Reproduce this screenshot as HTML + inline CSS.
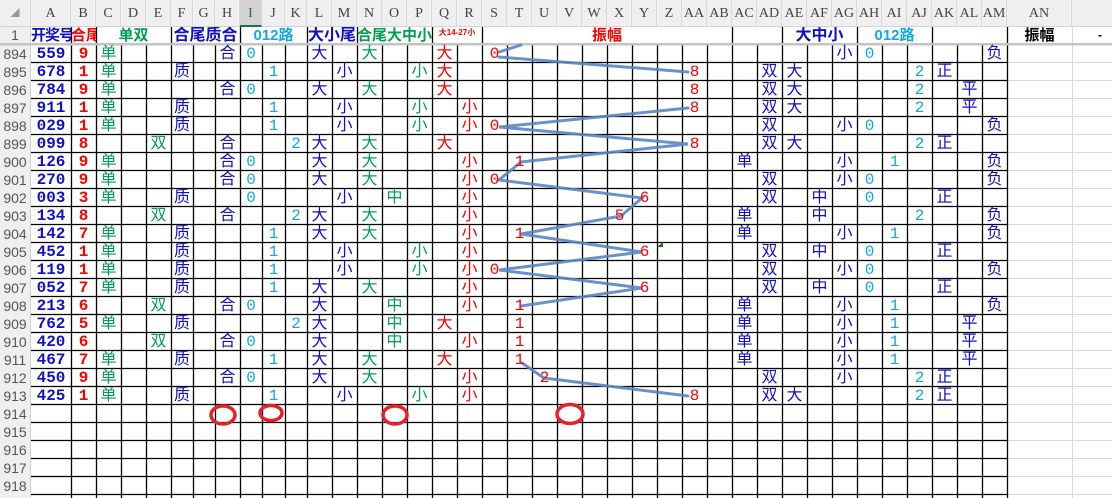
<!DOCTYPE html>
<html><head><meta charset="utf-8">
<style>
*{margin:0;padding:0;box-sizing:border-box}
body{width:1112px;height:498px;overflow:hidden;background:#fff;position:relative;font-family:"Liberation Sans","Noto Sans CJK SC",sans-serif}
.hd{position:absolute;left:0;top:0;width:1112px;height:27px;background:#efefef;border-bottom:1px solid #d4d4d4}
.hd span{position:absolute;top:0;height:27px;line-height:27px;text-align:center;font-family:"Liberation Serif","Noto Serif CJK SC",serif;font-size:14px;color:#444;border-right:1px solid #d8d8d8}
.rh{position:absolute;left:0;top:27px;width:31px;height:471px;background:#efefef;border-right:1px solid #d0d0d0}
.rh span{position:absolute;left:0;width:30px;text-align:center;font-family:"Liberation Sans Narrow","Liberation Sans",sans-serif;font-size:14px;color:#555;line-height:18px}
svg{position:absolute;left:0;top:0}
.r{position:absolute;left:0;width:1112px;height:18px}
.r i{position:absolute;top:0;height:18px;line-height:18px;text-align:center;font-style:normal;font-size:16px;font-family:"Liberation Sans","Noto Sans CJK SC",sans-serif;white-space:nowrap}
.A{left:31px;width:40px;color:#1010c8;font-weight:bold;font-family:"Liberation Mono",monospace!important;font-size:16px!important}
.B{left:71px;width:25px;color:#f00;font-weight:bold;font-family:"Liberation Mono",monospace!important;font-size:16px!important}
.C{left:96px;width:25px;color:#00a050}
.E{left:146px;width:25px;color:#00a050}
.F{left:171px;width:22px;color:#1010c8}
.H{left:215px;width:25px;color:#1010c8}
.I{left:240px;width:22px;color:#10a8e8;font-family:"Liberation Mono",monospace!important}
.J{left:262px;width:23px;color:#10a8e8;font-family:"Liberation Mono",monospace!important}
.K{left:285px;width:22px;color:#10a8e8;font-family:"Liberation Mono",monospace!important}
.L{left:307px;width:25px;color:#1010c8}
.M{left:332px;width:25px;color:#1010c8}
.N{left:357px;width:25px;color:#00a050}
.O{left:382px;width:25px;color:#00a050}
.P{left:407px;width:25px;color:#00a050}
.Q{left:432px;width:25px;color:#f00}
.R{left:457px;width:25px;color:#f00}
.v{width:25px;color:#f00;font-family:"Liberation Mono",monospace!important}
.v0{left:482px}.v1{left:507px}.v2{left:532px}.v5{left:607px}.v6{left:632px}.v8{left:682px}
.AC{left:732px;width:25px;color:#1010c8}
.AD{left:757px;width:25px;color:#1010c8}
.AE{left:782px;width:25px;color:#1010c8}
.AF{left:807px;width:25px;color:#1010c8}
.AG{left:832px;width:25px;color:#1010c8}
.AH{left:857px;width:25px;color:#10a8e8;font-family:"Liberation Mono",monospace!important}
.AI{left:882px;width:25px;color:#10a8e8;font-family:"Liberation Mono",monospace!important}
.AJ{left:907px;width:25px;color:#10a8e8;font-family:"Liberation Mono",monospace!important}
.AK{left:932px;width:25px;color:#1010c8}
.AL{left:957px;width:25px;color:#1010c8}
.AM{left:982px;width:25px;color:#1010c8}
.h1{position:absolute;top:27px;height:17px;line-height:17px;text-align:center;overflow:hidden;white-space:nowrap;font-weight:bold;font-family:"Liberation Sans","Noto Sans CJK SC",sans-serif}
</style></head><body>
<div class="hd">
<span style="left:0;width:31px;font-size:9px;color:#999">◢</span>
<span style="left:31px;width:40px">A</span><span style="left:71px;width:25px">B</span><span style="left:96px;width:25px">C</span><span style="left:121px;width:25px">D</span><span style="left:146px;width:25px">E</span><span style="left:171px;width:22px">F</span><span style="left:193px;width:22px">G</span><span style="left:215px;width:25px">H</span><span style="left:240px;width:22px;background:#d2d2d2;color:#217346;border-bottom:2px solid #217346">I</span><span style="left:262px;width:23px">J</span><span style="left:285px;width:22px">K</span><span style="left:307px;width:25px">L</span><span style="left:332px;width:25px">M</span><span style="left:357px;width:25px">N</span><span style="left:382px;width:25px">O</span><span style="left:407px;width:25px">P</span><span style="left:432px;width:25px">Q</span><span style="left:457px;width:25px">R</span><span style="left:482px;width:25px">S</span><span style="left:507px;width:25px">T</span><span style="left:532px;width:25px">U</span><span style="left:557px;width:25px">V</span><span style="left:582px;width:25px">W</span><span style="left:607px;width:25px">X</span><span style="left:632px;width:25px">Y</span><span style="left:657px;width:25px">Z</span><span style="left:682px;width:25px">AA</span><span style="left:707px;width:25px">AB</span><span style="left:732px;width:25px">AC</span><span style="left:757px;width:25px">AD</span><span style="left:782px;width:25px">AE</span><span style="left:807px;width:25px">AF</span><span style="left:832px;width:25px">AG</span><span style="left:857px;width:25px">AH</span><span style="left:882px;width:25px">AI</span><span style="left:907px;width:25px">AJ</span><span style="left:932px;width:25px">AK</span><span style="left:957px;width:25px">AL</span><span style="left:982px;width:25px">AM</span><span style="left:1007px;width:65px">AN</span>
</div>
<div class="rh">
<span style="top:0;line-height:17px">1</span>
<span style="top:18px">894</span><span style="top:36px">895</span><span style="top:54px">896</span><span style="top:72px">897</span><span style="top:90px">898</span><span style="top:108px">899</span><span style="top:126px">900</span><span style="top:144px">901</span><span style="top:162px">902</span><span style="top:180px">903</span><span style="top:198px">904</span><span style="top:216px">905</span><span style="top:234px">906</span><span style="top:252px">907</span><span style="top:270px">908</span><span style="top:288px">909</span><span style="top:306px">910</span><span style="top:324px">911</span><span style="top:342px">912</span><span style="top:360px">913</span><span style="top:378px">914</span><span style="top:396px">915</span><span style="top:414px">916</span><span style="top:432px">917</span><span style="top:450px">918</span>
</div>
<svg width="1112" height="498">
<g stroke="#dadada" stroke-width="1">
<line x1="1072.5" y1="27" x2="1072.5" y2="498"/>
<path d="M1007 62.5H1112M1007 80.5H1112M1007 98.5H1112M1007 116.5H1112M1007 134.5H1112M1007 152.5H1112M1007 170.5H1112M1007 188.5H1112M1007 206.5H1112M1007 224.5H1112M1007 242.5H1112M1007 260.5H1112M1007 278.5H1112M1007 296.5H1112M1007 314.5H1112M1007 332.5H1112M1007 350.5H1112M1007 368.5H1112M1007 386.5H1112M1007 404.5H1112M1007 422.5H1112M1007 440.5H1112M1007 458.5H1112M1007 476.5H1112M1007 494.5H1112"/>
</g>
<g stroke="#000" stroke-width="1.3">
<path d="M31 62.5H1007M31 80.5H1007M31 98.5H1007M31 116.5H1007M31 134.5H1007M31 152.5H1007M31 170.5H1007M31 188.5H1007M31 206.5H1007M31 224.5H1007M31 242.5H1007M31 260.5H1007M31 278.5H1007M31 296.5H1007M31 314.5H1007M31 332.5H1007M31 350.5H1007M31 368.5H1007M31 386.5H1007M31 404.5H1007M31 422.5H1007M31 440.5H1007M31 458.5H1007M31 476.5H1007M31 494.5H1007"/>
<path d="M71.5 45V498M96.5 45V498M121.5 45V498M146.5 45V498M171.5 45V498M193.5 45V498M215.5 45V498M240.5 45V498M262.5 45V498M285.5 45V498M307.5 45V498M332.5 45V498M357.5 45V498M382.5 45V498M407.5 45V498M432.5 45V498M457.5 45V498M482.5 45V498M507.5 45V498M532.5 45V498M557.5 45V498M582.5 45V498M607.5 45V498M632.5 45V498M657.5 45V498M682.5 45V498M707.5 45V498M732.5 45V498M757.5 45V498M782.5 45V498M807.5 45V498M832.5 45V498M857.5 45V498M882.5 45V498M907.5 45V498M932.5 45V498M957.5 45V498M982.5 45V498M1007.5 45V498"/>
<path d="M71.5 27V44M96.5 27V44M171.5 27V44M240.5 27V44M307.5 27V44M357.5 27V44M432.5 27V44M482.5 27V44M732.5 27V44M782.5 27V44M857.5 27V44M932.5 27V44M1007.5 27V44"/>
</g>
<rect x="31" y="43" width="1081" height="2.5" fill="#c4c4c4"/>
<rect x="0" y="43" width="31" height="2.5" fill="#c4c4c4"/>
<g stroke="#5a86c4" stroke-width="3" stroke-linecap="round" fill="none" opacity="0.9">
<path d="M499 52L521 45"/>
<path d="M499 57L688 72"/>
<path d="M688 108L499 127L688 144L521 162L499 180L642 198L621 216L521 234L642 252L499 270L642 288L521 306"/>
<path d="M522 363L544 378L688 396"/>
</g>
<g stroke="#e8202a" stroke-width="3.5" fill="none">
<ellipse cx="223" cy="415" rx="12" ry="9"/>
<ellipse cx="271" cy="413" rx="11" ry="7.5"/>
<ellipse cx="395" cy="415" rx="12" ry="9"/>
<ellipse cx="570" cy="414" rx="13" ry="9.5"/>
</g>
<path d="M657 247L663 242L663 247Z" fill="#1a7a1a"/>
</svg>
<div class="h1" style="left:31px;width:40px;color:#1010c8;font-size:15px;text-align:left;letter-spacing:-1px">开奖号</div>
<div class="h1" style="left:71px;width:25px;color:#f00;font-size:15px;text-align:left">合尾</div>
<div class="h1" style="left:96px;width:75px;color:#00a050;font-size:15px">单双</div>
<div class="h1" style="left:171px;width:69px;color:#1010c8;font-size:16px">合尾质合</div>
<div class="h1" style="left:240px;width:67px;color:#10a8e8;font-size:15px">012路</div>
<div class="h1" style="left:307px;width:50px;color:#1010c8;font-size:16px">大小尾</div>
<div class="h1" style="left:357px;width:75px;color:#00a050;font-size:15px">合尾大中小</div>
<div class="h1" style="left:432px;width:50px;color:#f00;font-size:8px;line-height:12px">大14-27小</div>
<div class="h1" style="left:482px;width:250px;color:#f00;font-size:15px">振幅</div>
<div class="h1" style="left:782px;width:75px;color:#1010c8;font-size:16px">大中小</div>
<div class="h1" style="left:857px;width:75px;color:#10a8e8;font-size:15px">012路</div>
<div class="h1" style="left:1007px;width:65px;color:#000;font-size:15px">振幅</div>
<div class="h1" style="left:1090px;width:20px;color:#000;font-size:12px">-</div>

<div class="r" style="top:45px"><i class="A">559</i><i class="B">9</i><i class="C">单</i><i class="H">合</i><i class="I">0</i><i class="L">大</i><i class="N">大</i><i class="Q">大</i><i class="v v0">0</i><i class="AG">小</i><i class="AH">0</i><i class="AM">负</i></div>
<div class="r" style="top:63px"><i class="A">678</i><i class="B">1</i><i class="C">单</i><i class="F">质</i><i class="J">1</i><i class="M">小</i><i class="P">小</i><i class="Q">大</i><i class="v v8">8</i><i class="AD">双</i><i class="AE">大</i><i class="AJ">2</i><i class="AK">正</i></div>
<div class="r" style="top:81px"><i class="A">784</i><i class="B">9</i><i class="C">单</i><i class="H">合</i><i class="I">0</i><i class="L">大</i><i class="N">大</i><i class="Q">大</i><i class="v v8">8</i><i class="AD">双</i><i class="AE">大</i><i class="AJ">2</i><i class="AL">平</i></div>
<div class="r" style="top:99px"><i class="A">911</i><i class="B">1</i><i class="C">单</i><i class="F">质</i><i class="J">1</i><i class="M">小</i><i class="P">小</i><i class="R">小</i><i class="v v8">8</i><i class="AD">双</i><i class="AE">大</i><i class="AJ">2</i><i class="AL">平</i></div>
<div class="r" style="top:117px"><i class="A">029</i><i class="B">1</i><i class="C">单</i><i class="F">质</i><i class="J">1</i><i class="M">小</i><i class="P">小</i><i class="R">小</i><i class="v v0">0</i><i class="AD">双</i><i class="AG">小</i><i class="AH">0</i><i class="AM">负</i></div>
<div class="r" style="top:135px"><i class="A">099</i><i class="B">8</i><i class="E">双</i><i class="H">合</i><i class="K">2</i><i class="L">大</i><i class="N">大</i><i class="Q">大</i><i class="v v8">8</i><i class="AD">双</i><i class="AE">大</i><i class="AJ">2</i><i class="AK">正</i></div>
<div class="r" style="top:153px"><i class="A">126</i><i class="B">9</i><i class="C">单</i><i class="H">合</i><i class="I">0</i><i class="L">大</i><i class="N">大</i><i class="R">小</i><i class="v v1">1</i><i class="AC">单</i><i class="AG">小</i><i class="AI">1</i><i class="AM">负</i></div>
<div class="r" style="top:171px"><i class="A">270</i><i class="B">9</i><i class="C">单</i><i class="H">合</i><i class="I">0</i><i class="L">大</i><i class="N">大</i><i class="R">小</i><i class="v v0">0</i><i class="AD">双</i><i class="AG">小</i><i class="AH">0</i><i class="AM">负</i></div>
<div class="r" style="top:189px"><i class="A">003</i><i class="B">3</i><i class="C">单</i><i class="F">质</i><i class="I">0</i><i class="M">小</i><i class="O">中</i><i class="R">小</i><i class="v v6">6</i><i class="AD">双</i><i class="AF">中</i><i class="AH">0</i><i class="AK">正</i></div>
<div class="r" style="top:207px"><i class="A">134</i><i class="B">8</i><i class="E">双</i><i class="H">合</i><i class="K">2</i><i class="L">大</i><i class="N">大</i><i class="R">小</i><i class="v v5">5</i><i class="AC">单</i><i class="AF">中</i><i class="AJ">2</i><i class="AM">负</i></div>
<div class="r" style="top:225px"><i class="A">142</i><i class="B">7</i><i class="C">单</i><i class="F">质</i><i class="J">1</i><i class="L">大</i><i class="N">大</i><i class="R">小</i><i class="v v1">1</i><i class="AC">单</i><i class="AG">小</i><i class="AI">1</i><i class="AM">负</i></div>
<div class="r" style="top:243px"><i class="A">452</i><i class="B">1</i><i class="C">单</i><i class="F">质</i><i class="J">1</i><i class="M">小</i><i class="P">小</i><i class="R">小</i><i class="v v6">6</i><i class="AD">双</i><i class="AF">中</i><i class="AH">0</i><i class="AK">正</i></div>
<div class="r" style="top:261px"><i class="A">119</i><i class="B">1</i><i class="C">单</i><i class="F">质</i><i class="J">1</i><i class="M">小</i><i class="P">小</i><i class="R">小</i><i class="v v0">0</i><i class="AD">双</i><i class="AG">小</i><i class="AH">0</i><i class="AM">负</i></div>
<div class="r" style="top:279px"><i class="A">052</i><i class="B">7</i><i class="C">单</i><i class="F">质</i><i class="J">1</i><i class="L">大</i><i class="N">大</i><i class="R">小</i><i class="v v6">6</i><i class="AD">双</i><i class="AF">中</i><i class="AH">0</i><i class="AK">正</i></div>
<div class="r" style="top:297px"><i class="A">213</i><i class="B">6</i><i class="E">双</i><i class="H">合</i><i class="I">0</i><i class="L">大</i><i class="O">中</i><i class="R">小</i><i class="v v1">1</i><i class="AC">单</i><i class="AG">小</i><i class="AI">1</i><i class="AM">负</i></div>
<div class="r" style="top:315px"><i class="A">762</i><i class="B">5</i><i class="C">单</i><i class="F">质</i><i class="K">2</i><i class="L">大</i><i class="O">中</i><i class="Q">大</i><i class="v v1">1</i><i class="AC">单</i><i class="AG">小</i><i class="AI">1</i><i class="AL">平</i></div>
<div class="r" style="top:333px"><i class="A">420</i><i class="B">6</i><i class="E">双</i><i class="H">合</i><i class="I">0</i><i class="L">大</i><i class="O">中</i><i class="R">小</i><i class="v v1">1</i><i class="AC">单</i><i class="AG">小</i><i class="AI">1</i><i class="AL">平</i></div>
<div class="r" style="top:351px"><i class="A">467</i><i class="B">7</i><i class="C">单</i><i class="F">质</i><i class="J">1</i><i class="L">大</i><i class="N">大</i><i class="Q">大</i><i class="v v1">1</i><i class="AC">单</i><i class="AG">小</i><i class="AI">1</i><i class="AL">平</i></div>
<div class="r" style="top:369px"><i class="A">450</i><i class="B">9</i><i class="C">单</i><i class="H">合</i><i class="I">0</i><i class="L">大</i><i class="N">大</i><i class="R">小</i><i class="v v2">2</i><i class="AD">双</i><i class="AG">小</i><i class="AJ">2</i><i class="AK">正</i></div>
<div class="r" style="top:387px"><i class="A">425</i><i class="B">1</i><i class="C">单</i><i class="F">质</i><i class="J">1</i><i class="M">小</i><i class="P">小</i><i class="R">小</i><i class="v v8">8</i><i class="AD">双</i><i class="AE">大</i><i class="AJ">2</i><i class="AK">正</i></div>
</body></html>
